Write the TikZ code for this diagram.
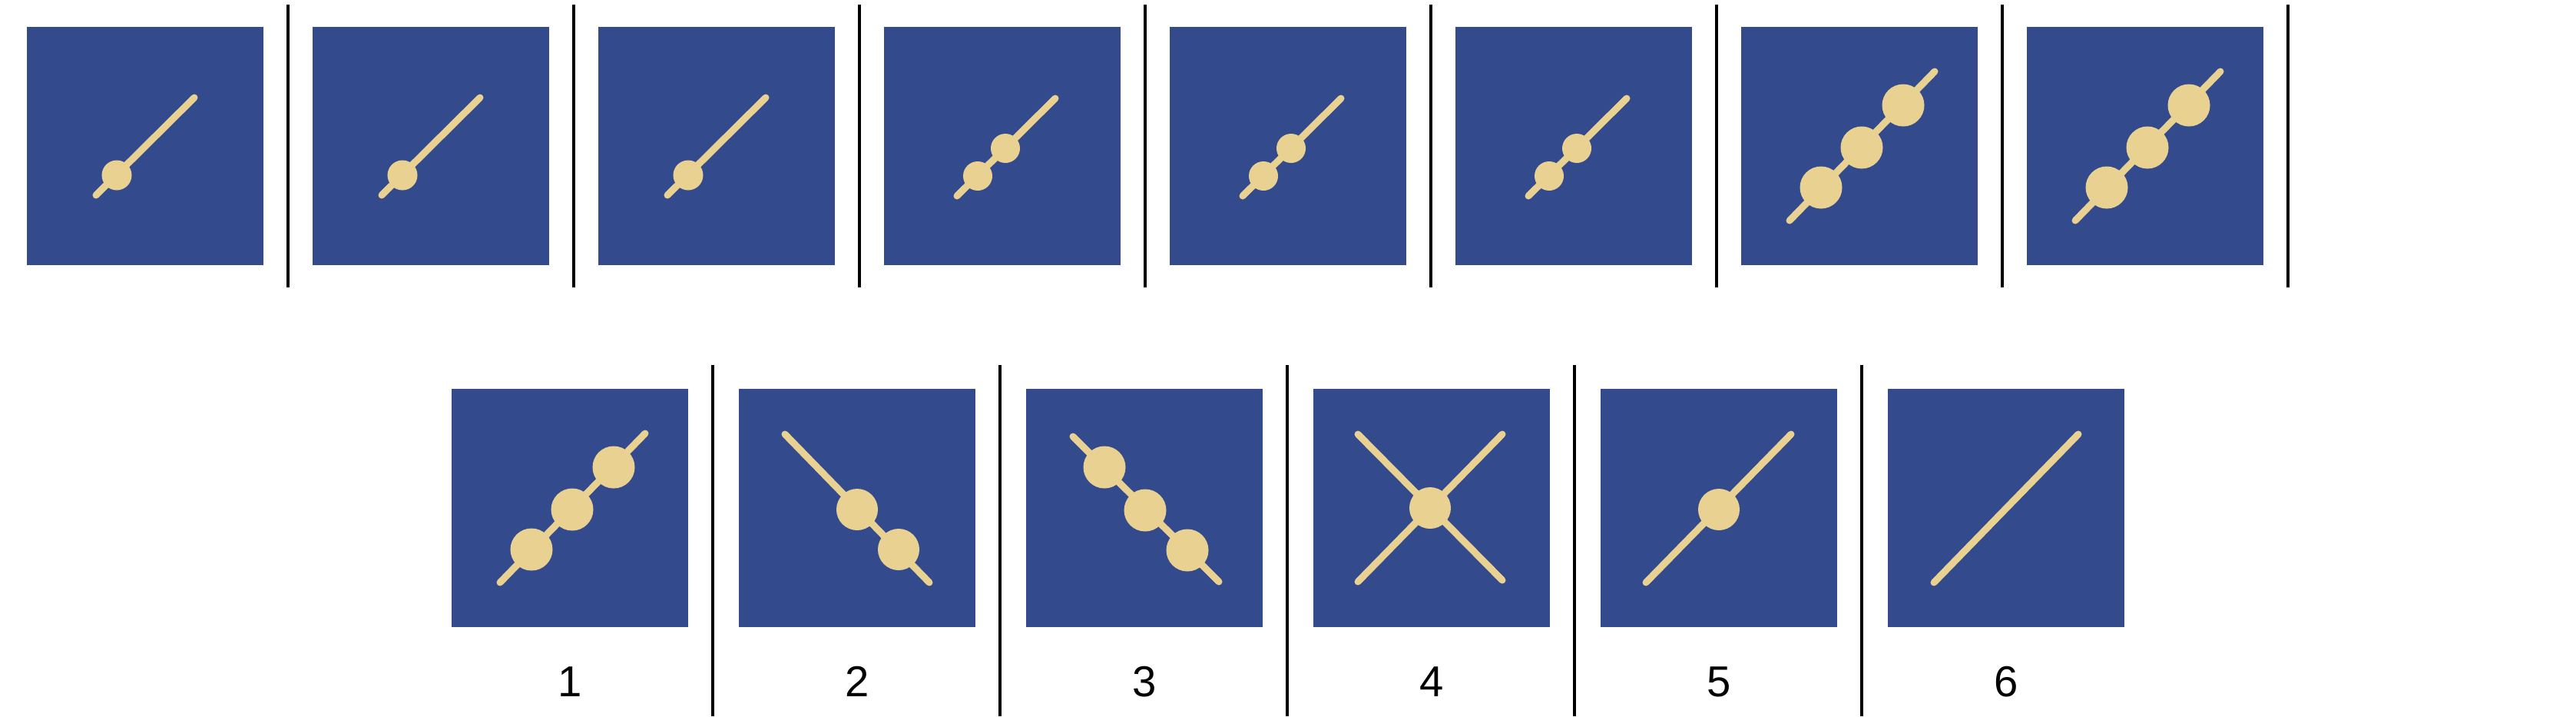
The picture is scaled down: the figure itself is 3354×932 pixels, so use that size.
\documentclass[tikz,border=0pt]{standalone}
\usepackage{fontspec}
\setmainfont{Liberation Sans}
\definecolor{panel}{RGB}{51,74,140}
\definecolor{straw}{RGB}{233,209,145}
\begin{document}
\begin{tikzpicture}[x=0.01cm,y=-0.01cm,
	box/.style={fill=panel,minimum width=3.08cm,minimum height=3.1cm,inner sep=0pt},
	stick/.style={draw=straw,line width=0.09cm,line cap=round},
	bead/.style={fill=straw},
	sep/.style={line width=1.3pt},
	num/.style={font=\fontsize{16}{19}\selectfont}]
	\useasboundingbox (0,0) rectangle (3354,932);
	% upper row
	\foreach \i in {1,...,8} {
		\node[box] (t\i) at ({189+372*(\i-1)},190) {};
		\draw[sep] ({375+372*(\i-1)},6) -- ++(0,368);
	}
	\foreach \b in {t1,t2,t3} {
		\begin{scope}[shift={(\b.center)}]
			\draw[stick] (-64,64) -- (64,-63);
			\fill[bead] (-37,38) circle[radius=0.195cm];
		\end{scope}
	}
	\foreach \b in {t4,t5,t6} {
		\begin{scope}[shift={(\b.center)}]
			\draw[stick] (-59,65) -- (69,-62);
			\fill[bead] (-32,39) circle[radius=0.19cm];
			\fill[bead] (4,3) circle[radius=0.19cm];
		\end{scope}
	}
	% lower row
	\foreach \k in {1,...,6} {
		\node[box] (b\k) at ({742+374*(\k-1)},661) {};
		\node[num] (n\k) at ({742+374*(\k-1)},887) {\k};
	}
	\foreach \k in {1,...,5}
		\draw[sep] ({928+374*(\k-1)},475) -- ++(0,457);
	\foreach \b in {t7,t8,b1} {
		\begin{scope}[shift={(\b.center)}]
			\draw[stick] (-91,97) -- (98,-97);
			\fill[bead] (-50,54) circle[radius=0.275cm];
			\fill[bead] (3,2) circle[radius=0.275cm];
			\fill[bead] (57,-53) circle[radius=0.275cm];
		\end{scope}
	}
	\begin{scope}[shift={(b2.center)}]
		\draw[stick] (-94,-96) -- (94,97);
		\fill[bead] (0,2) circle[radius=0.27cm];
		\fill[bead] (54,54) circle[radius=0.27cm];
	\end{scope}
	\begin{scope}[shift={(b3.center)}]
		\draw[stick] (-93,-93) -- (97,96);
		\fill[bead] (-52,-53) circle[radius=0.275cm];
		\fill[bead] (1,3) circle[radius=0.275cm];
		\fill[bead] (56,55) circle[radius=0.275cm];
	\end{scope}
	\begin{scope}[shift={(b4.center)}]
		\draw[stick] (-96,-96) -- (92,94);
		\draw[stick] (-96,96) -- (92,-96);
		\fill[bead] (-2,0) circle[radius=0.27cm];
	\end{scope}
	\begin{scope}[shift={(b5.center)}]
		\draw[stick] (-95,97) -- (94,-96);
		\fill[bead] (0,2) circle[radius=0.27cm];
	\end{scope}
	\begin{scope}[shift={(b6.center)}]
		\draw[stick] (-94,97) -- (94,-96);
	\end{scope}
\end{tikzpicture}
\end{document}
